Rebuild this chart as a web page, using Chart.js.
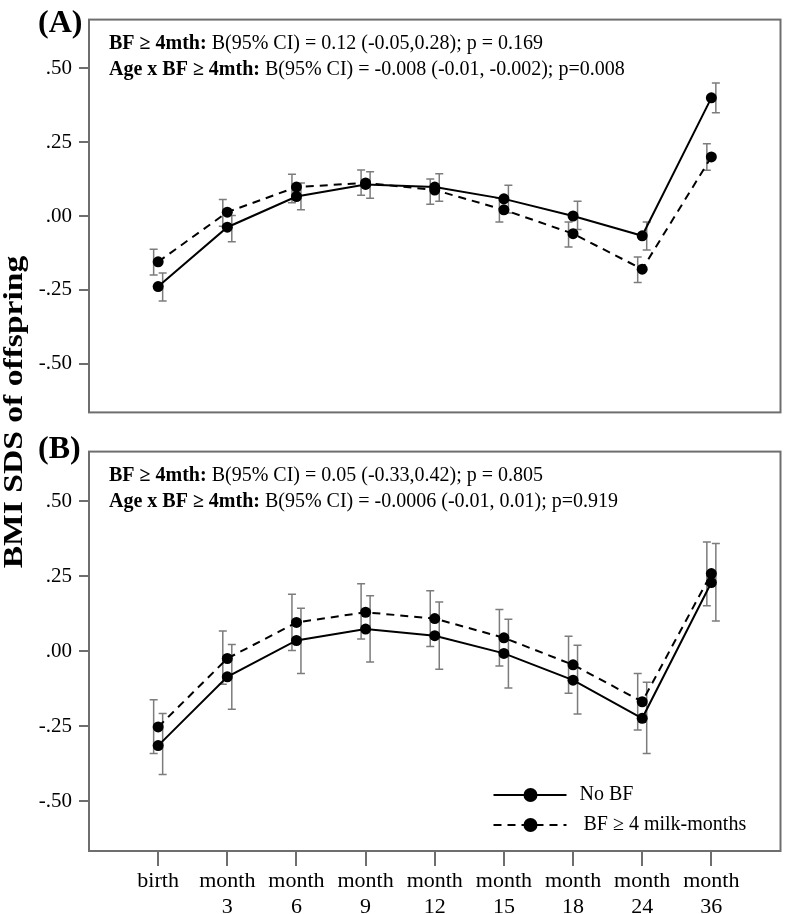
<!DOCTYPE html>
<html>
<head>
<meta charset="utf-8">
<script src="https://cdn.jsdelivr.net/npm/chart.js@4.4.0/dist/chart.umd.min.js"></script>
<style>
  html, body { margin: 0; padding: 0; background: #fff; }
  #wrap { position: relative; width: 786px; height: 914px; overflow: hidden; }
  #chartA { position: absolute; left: 0; top: 0; }
  #chartB { position: absolute; left: 0; top: 432px; }
  .panel-label {
    position: absolute; left: 38px;
    font: bold 32px "Liberation Serif", serif; color: #000; line-height: 1;
  }
  #ytitle {
    position: absolute; left: -187px; top: 397px; width: 400px;
    text-align: center; transform: rotate(-90deg) scaleX(1.2);
    font: bold 28px "Liberation Serif", serif; color: #000; line-height: 30px;
    white-space: nowrap;
  }
</style>
</head>
<body>
<div id="wrap">
  <canvas id="chartA" width="786" height="432"></canvas>
  <canvas id="chartB" width="786" height="482"></canvas>
  <div class="panel-label" style="top:5px">(A)</div>
  <div class="panel-label" style="top:431px">(B)</div>
  <div id="ytitle">BMI SDS of offspring</div>
</div>
<script>
// =========================
// data
// =========================
const categories = ["birth", ["month", "3"], ["month", "6"], ["month", "9"], ["month", "12"],
  ["month", "15"], ["month", "18"], ["month", "24"], ["month", "36"]];

const yTickValues = [-0.5, -0.25, 0, 0.25, 0.5];
const yTickLabels = ["-.50", "-.25", ".00", ".25", ".50"];

// panel A
const aBfMean = [-0.155, 0.013, 0.098, 0.112, 0.088, 0.021, -0.06, -0.18, 0.20];
const aBfLow = [-0.20, -0.035, 0.045, 0.07, 0.04, -0.02, -0.105, -0.225, 0.155];
const aBfHigh = [-0.113, 0.056, 0.141, 0.156, 0.125, 0.06, -0.02, -0.139, 0.245];
const aNoBfMean = [-0.239, -0.038, 0.066, 0.107, 0.098, 0.058, 0.00, -0.067, 0.40];
const aNoBfLow = [-0.288, -0.087, 0.021, 0.06, 0.05, 0.01, -0.046, -0.115, 0.35];
const aNoBfHigh = [-0.193, 0.002, 0.112, 0.15, 0.143, 0.104, 0.05, -0.02, 0.45];

// panel B
const bBfMean = [-0.252, -0.024, 0.096, 0.13, 0.109, 0.045, -0.045, -0.168, 0.259];
const bBfLow = [-0.34, -0.11, 0.003, 0.041, 0.016, -0.049, -0.14, -0.262, 0.152];
const bBfHigh = [-0.161, 0.068, 0.19, 0.225, 0.202, 0.139, 0.05, -0.074, 0.364];
const bNoBfMean = [-0.314, -0.085, 0.036, 0.074, 0.052, -0.007, -0.096, -0.223, 0.229];
const bNoBfLow = [-0.41, -0.193, -0.074, -0.036, -0.06, -0.122, -0.209, -0.34, 0.101];
const bNoBfHigh = [-0.207, 0.023, 0.143, 0.185, 0.164, 0.107, 0.02, -0.103, 0.359];

const notesA = [
  ["BF \u2265 4mth:", " B(95% CI) = 0.12 (-0.05,0.28); p = 0.169"],
  ["Age x BF \u2265 4mth:", " B(95% CI) = -0.008 (-0.01, -0.002); p=0.008"],
];
const notesB = [
  ["BF \u2265 4mth:", " B(95% CI) = 0.05 (-0.33,0.42); p = 0.805"],
  ["Age x BF \u2265 4mth:", " B(95% CI) = -0.0006 (-0.01, 0.01); p=0.919"],
];
const legendLabels = ["No BF", "BF \u2265 4 milk-months"];

const SERIF = '"Liberation Serif", "Times New Roman", serif';
const AXIS_GRAY = "#6e6e6e";
const BAR_GRAY = "#7c7c7c";

// =========================
// plugins
// =========================
const framePlugin = {
  id: "frame",
  afterDatasetsDraw(chart) {
    const { ctx, chartArea: a } = chart;
    ctx.save();
    ctx.strokeStyle = AXIS_GRAY;
    ctx.lineWidth = 2;
    ctx.strokeRect(a.left, a.top, a.right - a.left, a.bottom - a.top);
    ctx.restore();
  },
};

// 오차 막대: 점 옆으로 조금 비켜서 그림
const errorBarPlugin = {
  id: "errorBars",
  beforeDatasetsDraw(chart) {
    const { ctx, scales } = chart;
    ctx.save();
    ctx.strokeStyle = BAR_GRAY;
    ctx.lineWidth = 1.5;
    chart.data.datasets.forEach((ds) => {
      if (!ds.errLow) return;
      ds.data.forEach((pt, i) => {
        const x = scales.x.getPixelForValue(pt.x) + ds.errOffset;
        const y1 = scales.y.getPixelForValue(ds.errLow[i]);
        const y2 = scales.y.getPixelForValue(ds.errHigh[i]);
        ctx.beginPath();
        ctx.moveTo(x, y1); ctx.lineTo(x, y2);
        ctx.moveTo(x - 4, y1); ctx.lineTo(x + 4, y1);
        ctx.moveTo(x - 4, y2); ctx.lineTo(x + 4, y2);
        ctx.stroke();
      });
    });
    ctx.restore();
  },
};

const notesPlugin = {
  id: "notes",
  afterDraw(chart, args, opts) {
    const { ctx, chartArea } = chart;
    ctx.save();
    ctx.fillStyle = "#000";
    ctx.textBaseline = "middle";
    opts.lines.forEach(([bold, rest], i) => {
      const x = chartArea.left + 20;
      const y = chartArea.top + 24 + i * 26;
      ctx.font = `bold 20px ${SERIF}`;
      ctx.fillText(bold, x, y);
      const w = ctx.measureText(bold).width;
      ctx.font = `20px ${SERIF}`;
      ctx.fillText(rest, x + w, y);
    });
    ctx.restore();
  },
};

const legendPlugin = {
  id: "customLegend",
  afterDraw(chart, args, opts) {
    if (!opts.show) return;
    const { ctx, chartArea } = chart;
    const x0 = chartArea.right - 287;
    ctx.save();
    chart.data.datasets.forEach((ds, i) => {
      const y = chartArea.bottom - 56 + i * 30;
      ctx.strokeStyle = "#000";
      ctx.lineWidth = 2;
      ctx.setLineDash(ds.borderDash || []);
      ctx.beginPath();
      ctx.moveTo(x0, y); ctx.lineTo(x0 + 73, y);
      ctx.stroke();
      ctx.setLineDash([]);
      ctx.fillStyle = "#000";
      ctx.beginPath();
      ctx.arc(x0 + 37, y, 7, 0, Math.PI * 2);
      ctx.fill();
      ctx.font = `20px ${SERIF}`;
      ctx.textBaseline = "middle";
      ctx.fillText(legendLabels[i], x0 + 86 + i * 4, y);
    });
    ctx.restore();
  },
};

// =========================
// chart builder
// =========================
function toPoints(values) {
  return values.map((v, i) => ({ x: i, y: v }));
}

function makePanel(canvasId, series, notes, showX) {
  const ctx = document.getElementById(canvasId).getContext("2d");
  return new Chart(ctx, {
    type: "line",
    data: {
      datasets: [
        {
          label: legendLabels[0],
          data: toPoints(series.noBfMean),
          errLow: series.noBfLow,
          errHigh: series.noBfHigh,
          errOffset: 4.5,
          borderColor: "#000",
          borderWidth: 2,
          pointRadius: 5.5,
          pointBackgroundColor: "#000",
          pointBorderWidth: 0,
          tension: 0,
        },
        {
          label: legendLabels[1],
          data: toPoints(series.bfMean),
          errLow: series.bfLow,
          errHigh: series.bfHigh,
          errOffset: -4.5,
          borderColor: "#000",
          borderWidth: 2,
          borderDash: [8, 6],
          pointRadius: 5.5,
          pointBackgroundColor: "#000",
          pointBorderWidth: 0,
          tension: 0,
        },
      ],
    },
    options: {
      responsive: false,
      animation: false,
      layout: {
        padding: showX
          ? { left: 0, right: 4, top: 4, bottom: 0 }
          : { left: 0, right: 4, top: 11, bottom: 8 },
      },
      plugins: {
        legend: { display: false },
        tooltip: { enabled: false },
        notes: { lines: notes },
        customLegend: { show: showX },
      },
      scales: {
        x: {
          type: "linear",
          min: -1,
          max: 9,
          afterBuildTicks: (scale) => {
            scale.ticks = categories.map((c, i) => ({ value: i }));
          },
          afterFit: (scale) => {
            scale.height = showX ? 63 : 0;
          },
          border: { display: false },
          grid: {
            drawOnChartArea: false,
            drawTicks: showX,
            tickLength: 15,
            color: AXIS_GRAY,
            lineWidth: 2,
          },
          ticks: {
            display: showX,
            autoSkip: false,
            maxRotation: 0,
            padding: 3,
            color: "#000",
            font: { family: SERIF, size: 22, lineHeight: 1.15 },
            callback: (value) => categories[value],
          },
        },
        y: {
          min: -0.665,
          max: 0.665,
          afterBuildTicks: (scale) => {
            scale.ticks = yTickValues.map((v) => ({ value: v }));
          },
          afterFit: (scale) => {
            scale.width = 89;
          },
          border: { display: false },
          grid: {
            drawOnChartArea: false,
            tickLength: 10,
            color: AXIS_GRAY,
            lineWidth: 2,
          },
          ticks: {
            padding: 7,
            color: "#000",
            font: { family: SERIF, size: 21 },
            callback: (value, index) => yTickLabels[index],
          },
        },
      },
    },
    plugins: [errorBarPlugin, framePlugin, notesPlugin, legendPlugin],
  });
}

makePanel("chartA", {
  bfMean: aBfMean, bfLow: aBfLow, bfHigh: aBfHigh,
  noBfMean: aNoBfMean, noBfLow: aNoBfLow, noBfHigh: aNoBfHigh,
}, notesA, false);

makePanel("chartB", {
  bfMean: bBfMean, bfLow: bBfLow, bfHigh: bBfHigh,
  noBfMean: bNoBfMean, noBfLow: bNoBfLow, noBfHigh: bNoBfHigh,
}, notesB, true);
</script>
</body>
</html>
